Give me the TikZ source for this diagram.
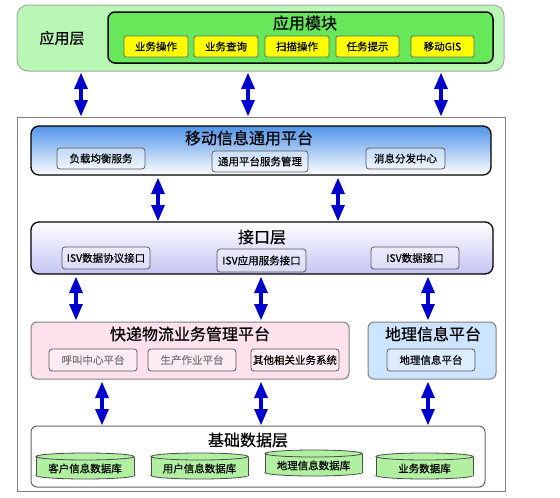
\documentclass[tikz,border=0pt]{standalone}
\usepackage{fontspec}
\setmainfont{Noto Sans CJK SC}
\newfontfamily\heavyf{Noto Sans CJK SC}[FakeBold=0.6]
\usetikzlibrary{arrows.meta}
\definecolor{appbg}{RGB}{184,248,180}
\definecolor{modbg}{RGB}{102,232,90}
\definecolor{ybg}{RGB}{255,255,0}
\definecolor{arrowblue}{RGB}{0,0,204}
\definecolor{mobtop}{RGB}{80,148,232}
\definecolor{itfbot}{RGB}{196,196,244}
\definecolor{pinkbg}{RGB}{253,226,238}
\definecolor{geobg}{RGB}{204,228,255}
\definecolor{dbbg}{RGB}{176,240,160}
\definecolor{graytext}{RGB}{120,120,120}
\begin{document}
\begin{tikzpicture}[x=1pt,y=-1pt,
  every node/.style={inner sep=0pt,outer sep=0pt},
  big/.style={font=\heavyf\fontsize{16}{18}\selectfont},
  small/.style={font=\heavyf\fontsize{10.5}{12}\selectfont},
  ybox/.style={small,rectangle,fill=ybg,draw=black!60,line width=0.8pt,rounded corners=1.5pt,minimum height=21pt},
  ibox/.style={small,rectangle,draw=black!65,line width=0.8pt,rounded corners=3pt,fill=white,fill opacity=0.35,text opacity=1,minimum height=21pt},
  dbl/.style={draw=arrowblue,line width=3.5pt,
    {Triangle[width=14pt,length=16pt,line width=0pt]}-{Triangle[width=14pt,length=16pt,line width=0pt]}},
  cyl/.style={fill=dbbg,draw=black!70,line width=0.8pt}
]
\useasboundingbox (0,0) rectangle (560,498);
% application layer
\node[draw=black!35,line width=1pt,fill=appbg,rounded corners=11pt,minimum width=487pt,minimum height=66pt] (app) at (260.5,38) {};
\node[font=\heavyf\fontsize{15}{17}\selectfont] (applbl) at (62,38) {应用层};
\node[draw=black,line width=1.5pt,fill=modbg,rounded corners=7pt,minimum width=385pt,minimum height=51pt] (mod) at (300.5,37.5) {};
\node[big] (modlbl) at (305,23) {应用模块};
\node[ybox,minimum width=64pt] (y1) at (156,46.5) {业务操作};
\node[ybox,minimum width=64pt] (y2) at (226,46.5) {业务查询};
\node[ybox,minimum width=64pt] (y3) at (297,46.5) {扫描操作};
\node[ybox,minimum width=63pt] (y4) at (367.5,46.5) {任务提示};
\node[ybox,minimum width=63pt] (y5) at (442.5,46.5) {移动GIS};
% outer frame
\node[draw=black!50,line width=1pt,minimum width=488pt,minimum height=374pt] (frame) at (261,304) {};
% mobile platform
\node[draw=black,line width=1.3pt,top color=mobtop,bottom color=white,rounded corners=8pt,minimum width=460pt,minimum height=49pt] (mob) at (261,150.5) {};
\node[big] (moblbl) at (249,138) {移动信息通用平台};
\node[ibox,minimum width=88pt] (m1) at (101,158.5) {负载均衡服务};
\node[ibox,minimum width=96pt] (m2) at (260,161.5) {通用平台服务管理};
\node[ibox,minimum width=79pt] (m3) at (405.5,158.5) {消息分发中心};
% interface layer
\node[draw=black,line width=1.3pt,top color=white,bottom color=itfbot,rounded corners=8pt,minimum width=462pt,minimum height=52pt] (itf) at (262,248) {};
\node[big] (itflbl) at (262,237) {接口层};
\node[ibox,minimum width=88pt,minimum height=22pt] (i1) at (106,258) {ISV数据协议接口};
\node[ibox,minimum width=89pt,minimum height=23pt] (i2) at (261.5,260.5) {ISV应用服务接口};
\node[ibox,minimum width=88pt,minimum height=22pt] (i3) at (415,258) {ISV数据接口};
% express platform
\node[draw=black!50,line width=1pt,fill=pinkbg,rounded corners=6pt,minimum width=318pt,minimum height=57pt] (exp) at (190,350.5) {};
\node[big] (explbl) at (190,334) {快递物流业务管理平台};
\node[ibox,minimum width=88pt,minimum height=22pt,text=graytext] (e1) at (93,360) {呼叫中心平台};
\node[ibox,minimum width=88pt,minimum height=22pt,text=graytext] (e2) at (192,360) {生产作业平台};
\node[ibox,minimum width=88pt,minimum height=22pt] (e3) at (295,360) {其他相关业务系统};
% geo platform
\node[draw=black!50,line width=1pt,fill=geobg,rounded corners=6pt,minimum width=128pt,minimum height=57pt] (geo) at (432,350.5) {};
\node[big] (geolbl) at (433,334) {地理信息平台};
\node[ibox,minimum width=88pt,minimum height=22pt] (g1) at (431,360) {地理信息平台};
% base data layer
\node[draw=black!60,line width=1pt,fill=white,rounded corners=6pt,minimum width=454pt,minimum height=61pt] (base) at (258,456.5) {};
\node[big] (baselbl) at (248,440) {基础数据层};
% cylinders
\foreach \n/\xa/\xb/\yt/\yb/\t in {d1/36/134/453/479/客户信息数据库, d2/151/248/453/479/用户信息数据库, d3/265/362/450/476/地理信息数据库, d4/376/473/453/479/业务数据库}{
  \pgfmathsetmacro{\cx}{(\xa+\xb)/2}
  \pgfmathsetmacro{\rx}{(\xb-\xa)/2}
  \pgfmathsetmacro{\ct}{\yt+3.5}
  \pgfmathsetmacro{\cb}{\yb-3.5}
  \pgfmathsetmacro{\cm}{(\yt+\yb)/2+2.5}
  \path[cyl] (\cx,\cb) ellipse [x radius=\rx, y radius=3.5];
  \fill[dbbg] (\xa,\ct) rectangle (\xb,\cb);
  \draw[black!70,line width=0.8pt] (\xa,\ct) -- (\xa,\cb) (\xb,\ct) -- (\xb,\cb);
  \path[cyl] (\cx,\ct) ellipse [x radius=\rx, y radius=3.5];
  \node[small] (\n) at (\cx,\cm) {\t};
}
% arrow end points
\foreach \n/\x/\ya/\yb in {a1/81/73/116, a2/248/73/116, a3/441/73/116,
  b1/158/178/221, b2/338/178/221,
  c1/76/277/320, c2/261/277/320, c3/428/277/320,
  d1/102/382/425, d2/261/382/425, d3/428/382/425}{
  \coordinate (\n s) at (\x,\ya);
  \coordinate (\n e) at (\x,\yb);
}
\foreach \n in {a1,a2,a3,b1,b2,c1,c2,c3,d1,d2,d3}{
  \draw[dbl] (\n s) -- (\n e);
}
\end{tikzpicture}
\end{document}
